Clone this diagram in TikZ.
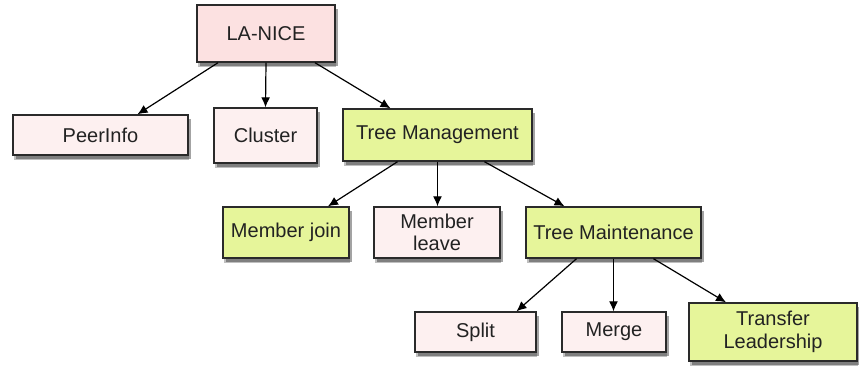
\documentclass[tikz,border=0pt]{standalone}
\usepackage{fontspec}
\setmainfont{Liberation Sans}
\usetikzlibrary{shadows,arrows.meta}
\definecolor{pinkfill}{HTML}{FDF0F0}
\definecolor{pinktop}{HTML}{FCE1E1}
\definecolor{greenfill}{HTML}{E6F59A}
\definecolor{edgecol}{HTML}{2A2A2A}
\definecolor{txt}{HTML}{222222}
\tikzset{
  box/.style={draw=edgecol, line width=1.4pt, align=center, text=txt,
    font=\fontsize{20}{22.5}\selectfont, inner sep=0pt,
    general shadow={shadow xshift=1pt, shadow yshift=-5pt, opacity=0.25, fill=black},
    drop shadow={shadow xshift=2.5pt, shadow yshift=-3.5pt, opacity=0.45, fill=black!80}},
  pinkbox/.style={box, fill=pinkfill},
  greenbox/.style={box, fill=greenfill},
  conn/.style={draw=black, line width=1.2pt, -{Latex[length=10pt,width=9pt]}}
}
\newcommand{\bx}[7]{% name, style, x1, y1, x2, y2, text
  \node[#2, minimum width={(#5-#3)*1pt}, minimum height={(#6-#4)*1pt}] (#1) at ({(#3+#5)/2}, {(#4+#6)/2}) {#7};}
\begin{document}
\begin{tikzpicture}[x=1pt,y=-1pt]
\useasboundingbox[fill=white] (0,0) rectangle (859,365);
\bx{root}{pinkbox,fill=pinktop}{197}{5}{335}{62}{LA-NICE}
\bx{peer}{pinkbox}{13}{115}{188}{155}{PeerInfo}
\bx{clus}{pinkbox}{214}{108}{317}{163}{Cluster}
\bx{tm}{greenbox}{343}{109}{532}{161}{Tree Management}
\bx{mj}{greenbox}{223}{207}{349}{258}{Member join}
\bx{ml}{pinkbox}{374}{207}{500}{258}{Member\\leave}
\bx{tmt}{greenbox}{526}{207}{701}{258}{Tree Maintenance}
\bx{split}{pinkbox}{415}{312}{536}{352}{Split}
\bx{merge}{pinkbox}{562}{312}{666}{352}{Merge}
\bx{tl}{greenbox}{689}{303}{857}{361}{Transfer\\Leadership}

\draw[conn] ([xshift=-48pt]root.south) -- ([xshift=37pt]peer.north);
\draw[conn] ([xshift=0pt]root.south) -- (clus.north);
\draw[conn] ([xshift=49pt]root.south) -- ([xshift=-47pt]tm.north);
\draw[conn] ([xshift=-40pt]tm.south) -- ([xshift=42pt]mj.north);
\draw[conn] ([xshift=0pt]tm.south) -- ([xshift=0pt]tm.south |- ml.north);
\draw[conn] ([xshift=47pt]tm.south) -- ([xshift=-49pt]tmt.north);
\draw[conn] ([xshift=-37pt]tmt.south) -- ([xshift=41pt]split.north);
\draw[conn] ([xshift=0pt]tmt.south) -- ([xshift=0pt]tmt.south |- merge.north);
\draw[conn] ([xshift=40pt]tmt.south) -- ([xshift=-47pt]tl.north);
\end{tikzpicture}
\end{document}
